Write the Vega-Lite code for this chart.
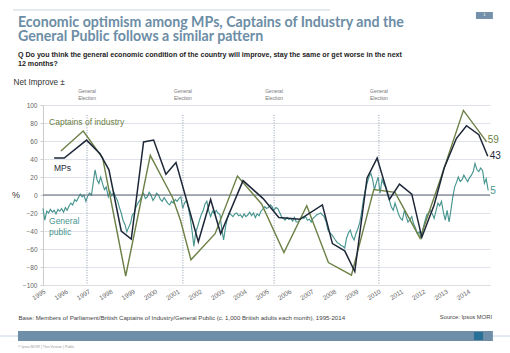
{
  "$schema": "https://vega.github.io/schema/vega-lite/v6.json",
  "width": 447,
  "height": 180,
  "autosize": {"type": "none"},
  "padding": {"left": 43, "top": 105, "right": 20, "bottom": 68},
  "background": "white",
  "resolve": {"axis": {"x": "independent", "y": "independent"}},
  "config": {
    "view": {"stroke": null},
    "font": "Liberation Sans",
    "axis": {
      "labelOverlap": false, "labelFlush": false, "labelBound": false,
      "labelFontSize": 6.5, "labelColor": "#666666", "labelPadding": 3,
      "titleFontWeight": "normal"
    },
    "axisX": {
      "grid": false, "ticks": false, "domainColor": "#dddddd", "labelAngle": -32,
      "titleFontSize": 6.1, "titleColor": "#444444",
      "titleAnchor": "start", "titleAlign": "left", "titleBaseline": "middle", "titleX": -25, "titleY": 32
    },
    "axisY": {
      "grid": true, "gridColor": "#dfe2e8", "ticks": true, "tickSize": 3, "tickColor": "#cccccc", "domainColor": "#cccccc",
      "titleFontSize": 8.2, "titleColor": "#333333",
      "titleAngle": 0, "titleAlign": "left", "titleBaseline": "middle", "titleX": -30, "titleY": -23
    }
  },
  "title": {
    "text": ["Economic optimism among MPs, Captains of Industry and the", "General Public follows a similar pattern"],
    "subtitle": ["Q Do you think the general economic condition of the country will improve, stay the same or get worse in the next", "12 months?"],
    "anchor": "start",
    "frame": "group",
    "dx": -25,
    "dy": 68,
    "offset": 10,
    "font": "Lato",
    "fontSize": 14.2,
    "fontWeight": "bold",
    "color": "#6c8da6",
    "lineHeight": 14,
    "subtitleFont": "Liberation Sans",
    "subtitleFontSize": 7.1,
    "subtitleFontWeight": "bold",
    "subtitleColor": "#222222",
    "subtitleLineHeight": 9,
    "subtitlePadding": 7
  },
  "datasets": {
    "mps": [
      {"t": 1995.5, "v": 41}, {"t": 1995.95, "v": 41}, {"t": 1996.95, "v": 61}, {"t": 1997.55, "v": 46},
      {"t": 1997.95, "v": 28}, {"t": 1998.5, "v": -40}, {"t": 1998.95, "v": -49}, {"t": 1999.5, "v": 59},
      {"t": 1999.95, "v": 61}, {"t": 2000.5, "v": 23}, {"t": 2000.95, "v": 36}, {"t": 2001.95, "v": -52},
      {"t": 2002.5, "v": -5}, {"t": 2002.95, "v": -43}, {"t": 2003.95, "v": 16}, {"t": 2004.85, "v": -4},
      {"t": 2005.55, "v": -25}, {"t": 2006.5, "v": -27}, {"t": 2007.5, "v": -11}, {"t": 2007.95, "v": -54},
      {"t": 2008.5, "v": -62}, {"t": 2008.95, "v": -85}, {"t": 2009.5, "v": 19}, {"t": 2009.95, "v": 41},
      {"t": 2010.5, "v": -5}, {"t": 2010.95, "v": 12}, {"t": 2011.5, "v": 1}, {"t": 2011.95, "v": -47},
      {"t": 2012.5, "v": -11}, {"t": 2012.95, "v": 30}, {"t": 2013.5, "v": 63}, {"t": 2013.95, "v": 77},
      {"t": 2014.5, "v": 67}, {"t": 2014.9, "v": 43}
    ],
    "coi": [
      {"t": 1995.8, "v": 49}, {"t": 1996.8, "v": 71}, {"t": 1997.67, "v": 41}, {"t": 1998.7, "v": -90},
      {"t": 1999.8, "v": 44}, {"t": 2000.8, "v": -3}, {"t": 2001.15, "v": -28}, {"t": 2001.62, "v": -72},
      {"t": 2002.7, "v": -43}, {"t": 2003.7, "v": 21}, {"t": 2004.78, "v": -10}, {"t": 2005.78, "v": -64},
      {"t": 2006.8, "v": -12}, {"t": 2007.77, "v": -75}, {"t": 2008.8, "v": -89}, {"t": 2009.8, "v": 6},
      {"t": 2010.75, "v": 3}, {"t": 2011.87, "v": -48}, {"t": 2012.84, "v": 22}, {"t": 2013.81, "v": 94},
      {"t": 2014.85, "v": 59}
    ],
    "gp": [
      {"t": 1995.00, "v": -15}, {"t": 1995.08, "v": -28}, {"t": 1995.17, "v": -18}, {"t": 1995.25, "v": -20},
      {"t": 1995.33, "v": -16}, {"t": 1995.42, "v": -19}, {"t": 1995.50, "v": -17}, {"t": 1995.58, "v": -21},
      {"t": 1995.67, "v": -16}, {"t": 1995.75, "v": -18}, {"t": 1995.83, "v": -15}, {"t": 1995.92, "v": -19},
      {"t": 1996.00, "v": -14}, {"t": 1996.08, "v": -17}, {"t": 1996.17, "v": -12}, {"t": 1996.25, "v": -9},
      {"t": 1996.33, "v": -11}, {"t": 1996.42, "v": -5}, {"t": 1996.50, "v": -7}, {"t": 1996.58, "v": -3},
      {"t": 1996.67, "v": 1}, {"t": 1996.75, "v": -2}, {"t": 1996.83, "v": 0}, {"t": 1996.92, "v": -7},
      {"t": 1997.00, "v": -1}, {"t": 1997.08, "v": 2}, {"t": 1997.17, "v": 0}, {"t": 1997.25, "v": 14},
      {"t": 1997.33, "v": 28}, {"t": 1997.42, "v": 17}, {"t": 1997.50, "v": 13}, {"t": 1997.58, "v": 20},
      {"t": 1997.67, "v": 12}, {"t": 1997.75, "v": 6}, {"t": 1997.83, "v": 9}, {"t": 1997.92, "v": -2},
      {"t": 1998.00, "v": 4}, {"t": 1998.08, "v": -1}, {"t": 1998.17, "v": 3}, {"t": 1998.25, "v": -2},
      {"t": 1998.33, "v": -6}, {"t": 1998.42, "v": -14}, {"t": 1998.50, "v": -20}, {"t": 1998.58, "v": -28},
      {"t": 1998.67, "v": -33}, {"t": 1998.75, "v": -41}, {"t": 1998.83, "v": -36}, {"t": 1998.92, "v": -31},
      {"t": 1999.00, "v": -22}, {"t": 1999.08, "v": -20}, {"t": 1999.17, "v": -13}, {"t": 1999.25, "v": -9},
      {"t": 1999.33, "v": -6}, {"t": 1999.42, "v": -1}, {"t": 1999.50, "v": 2}, {"t": 1999.58, "v": -4},
      {"t": 1999.67, "v": -2}, {"t": 1999.75, "v": 3}, {"t": 1999.83, "v": 0}, {"t": 1999.92, "v": -6},
      {"t": 2000.00, "v": -3}, {"t": 2000.08, "v": 2}, {"t": 2000.17, "v": 0}, {"t": 2000.25, "v": -5},
      {"t": 2000.33, "v": -7}, {"t": 2000.42, "v": -3}, {"t": 2000.50, "v": -6}, {"t": 2000.58, "v": -9},
      {"t": 2000.67, "v": -11}, {"t": 2000.75, "v": -7}, {"t": 2000.83, "v": -9}, {"t": 2000.92, "v": -5},
      {"t": 2001.00, "v": -7}, {"t": 2001.08, "v": -4}, {"t": 2001.17, "v": -2}, {"t": 2001.25, "v": -15},
      {"t": 2001.33, "v": -9}, {"t": 2001.42, "v": -6}, {"t": 2001.50, "v": -14}, {"t": 2001.58, "v": -24},
      {"t": 2001.67, "v": -40}, {"t": 2001.75, "v": -57}, {"t": 2001.83, "v": -42}, {"t": 2001.92, "v": -35},
      {"t": 2002.00, "v": -28}, {"t": 2002.08, "v": -22}, {"t": 2002.17, "v": -17}, {"t": 2002.25, "v": -10},
      {"t": 2002.33, "v": -7}, {"t": 2002.42, "v": -18}, {"t": 2002.50, "v": -24}, {"t": 2002.58, "v": -18},
      {"t": 2002.67, "v": -21}, {"t": 2002.75, "v": -17}, {"t": 2002.83, "v": -20}, {"t": 2002.92, "v": -22},
      {"t": 2003.00, "v": -38}, {"t": 2003.08, "v": -50}, {"t": 2003.17, "v": -35}, {"t": 2003.25, "v": -26},
      {"t": 2003.33, "v": -20}, {"t": 2003.42, "v": -22}, {"t": 2003.50, "v": -24}, {"t": 2003.58, "v": -21},
      {"t": 2003.67, "v": -20}, {"t": 2003.75, "v": -23}, {"t": 2003.83, "v": -22}, {"t": 2003.92, "v": -25},
      {"t": 2004.00, "v": -21}, {"t": 2004.08, "v": -24}, {"t": 2004.17, "v": -22}, {"t": 2004.25, "v": -19},
      {"t": 2004.33, "v": -23}, {"t": 2004.42, "v": -20}, {"t": 2004.50, "v": -25}, {"t": 2004.58, "v": -21},
      {"t": 2004.67, "v": -23}, {"t": 2004.75, "v": -18}, {"t": 2004.83, "v": -16}, {"t": 2004.92, "v": -13},
      {"t": 2005.00, "v": -15}, {"t": 2005.08, "v": -14}, {"t": 2005.17, "v": -11}, {"t": 2005.25, "v": -13},
      {"t": 2005.33, "v": -17}, {"t": 2005.42, "v": -14}, {"t": 2005.50, "v": -15}, {"t": 2005.58, "v": -19},
      {"t": 2005.67, "v": -24}, {"t": 2005.75, "v": -26}, {"t": 2005.83, "v": -28}, {"t": 2005.92, "v": -25},
      {"t": 2006.00, "v": -27}, {"t": 2006.08, "v": -26}, {"t": 2006.17, "v": -29}, {"t": 2006.25, "v": -25},
      {"t": 2006.33, "v": -30}, {"t": 2006.42, "v": -30}, {"t": 2006.50, "v": -27}, {"t": 2006.58, "v": -24},
      {"t": 2006.67, "v": -26}, {"t": 2006.75, "v": -24}, {"t": 2006.83, "v": -28}, {"t": 2006.92, "v": -27},
      {"t": 2007.00, "v": -30}, {"t": 2007.08, "v": -26}, {"t": 2007.17, "v": -24}, {"t": 2007.25, "v": -22},
      {"t": 2007.33, "v": -21}, {"t": 2007.42, "v": -20}, {"t": 2007.50, "v": -22}, {"t": 2007.58, "v": -24},
      {"t": 2007.67, "v": -30}, {"t": 2007.75, "v": -39}, {"t": 2007.83, "v": -42}, {"t": 2007.92, "v": -44},
      {"t": 2008.00, "v": -47}, {"t": 2008.08, "v": -50}, {"t": 2008.17, "v": -53}, {"t": 2008.25, "v": -54},
      {"t": 2008.33, "v": -56}, {"t": 2008.42, "v": -57}, {"t": 2008.50, "v": -59}, {"t": 2008.58, "v": -48},
      {"t": 2008.67, "v": -42}, {"t": 2008.75, "v": -39}, {"t": 2008.83, "v": -46}, {"t": 2008.92, "v": -50},
      {"t": 2009.00, "v": -43}, {"t": 2009.08, "v": -38}, {"t": 2009.17, "v": -31}, {"t": 2009.25, "v": -20},
      {"t": 2009.33, "v": -6}, {"t": 2009.42, "v": 5}, {"t": 2009.50, "v": 13}, {"t": 2009.58, "v": 20},
      {"t": 2009.67, "v": 24}, {"t": 2009.75, "v": 17}, {"t": 2009.83, "v": 6}, {"t": 2009.92, "v": 14},
      {"t": 2010.00, "v": 20}, {"t": 2010.08, "v": 2}, {"t": 2010.17, "v": 17}, {"t": 2010.25, "v": 12},
      {"t": 2010.33, "v": 9}, {"t": 2010.42, "v": 0}, {"t": 2010.50, "v": -6}, {"t": 2010.58, "v": -13},
      {"t": 2010.67, "v": -17}, {"t": 2010.75, "v": -9}, {"t": 2010.83, "v": -15}, {"t": 2010.92, "v": -22},
      {"t": 2011.00, "v": -26}, {"t": 2011.08, "v": -28}, {"t": 2011.17, "v": -17}, {"t": 2011.25, "v": -24},
      {"t": 2011.33, "v": -30}, {"t": 2011.42, "v": -27}, {"t": 2011.50, "v": -24}, {"t": 2011.58, "v": -32},
      {"t": 2011.67, "v": -37}, {"t": 2011.75, "v": -43}, {"t": 2011.83, "v": -41}, {"t": 2011.92, "v": -48},
      {"t": 2012.00, "v": -38}, {"t": 2012.08, "v": -30}, {"t": 2012.17, "v": -22}, {"t": 2012.25, "v": -20},
      {"t": 2012.33, "v": -17}, {"t": 2012.42, "v": -21}, {"t": 2012.50, "v": -26}, {"t": 2012.58, "v": -18},
      {"t": 2012.67, "v": -9}, {"t": 2012.75, "v": -12}, {"t": 2012.83, "v": -7}, {"t": 2012.92, "v": -20},
      {"t": 2013.00, "v": -28}, {"t": 2013.08, "v": -17}, {"t": 2013.17, "v": -30}, {"t": 2013.25, "v": -17},
      {"t": 2013.33, "v": -3}, {"t": 2013.42, "v": 9}, {"t": 2013.50, "v": 14}, {"t": 2013.58, "v": 20},
      {"t": 2013.67, "v": 15}, {"t": 2013.75, "v": 17}, {"t": 2013.83, "v": 22}, {"t": 2013.92, "v": 18},
      {"t": 2014.00, "v": 15}, {"t": 2014.08, "v": 19}, {"t": 2014.17, "v": 22}, {"t": 2014.25, "v": 26},
      {"t": 2014.33, "v": 35}, {"t": 2014.42, "v": 28}, {"t": 2014.50, "v": 26}, {"t": 2014.58, "v": 30},
      {"t": 2014.67, "v": 27}, {"t": 2014.75, "v": 13}, {"t": 2014.83, "v": 18}, {"t": 2014.92, "v": 5}
    ],
    "elections": [
      {"t": 1996.97, "label": "General\nElection"},
      {"t": 2001.26, "label": "General\nElection"},
      {"t": 2005.34, "label": "General\nElection"},
      {"t": 2010.03, "label": "General\nElection"}
    ],
    "labels": [
      {"name": "Captains of industry", "series": "coi", "t": 1995.27, "v": 81},
      {"name": "MPs", "series": "mps", "t": 1995.49, "v": 30.5},
      {"name": "General", "series": "gp", "t": 1995.27, "v": -29},
      {"name": "public", "series": "gp", "t": 1995.27, "v": -41}
    ]
  },
  "layer": [
    {
      "data": {"name": "gp"},
      "mark": {"type": "line", "color": "#47958f", "strokeWidth": 1.15},
      "encoding": {
        "x": {"field": "t", "type": "quantitative",
          "scale": {"domain": [1995, 2015], "nice": false, "zero": false},
          "axis": {
            "values": [1995, 1996, 1997, 1998, 1999, 2000, 2001, 2002, 2003, 2004, 2005, 2006, 2007, 2008, 2009, 2010, 2011, 2012, 2013, 2014],
            "format": "d", "labelOverlap": false, "grid": false,
            "title": "Base: Members of Parliament/British Captains of Industry/General Public (c. 1,000 British adults each month), 1995-2014"
          }
        },
        "y": {"field": "v", "type": "quantitative",
          "scale": {"domain": [-100, 100], "nice": false},
          "axis": {
            "values": [-100, -80, -60, -40, -20, 0, 20, 40, 60, 80, 100],
            "labelOverlap": false, "grid": true,
            "title": "Net Improve ±"
          }
        }
      }
    },
    {
      "mark": {"type": "rule", "color": "#5b6570", "strokeWidth": 1},
      "data": {"values": [{}]},
      "encoding": {
        "y": {"datum": 0, "type": "quantitative", "scale": {"domain": [-100, 100], "nice": false}, "axis": null}
      }
    },
    {
      "data": {"name": "elections"},
      "mark": {"type": "rule", "color": "#8e9aae", "strokeDash": [1, 1.5], "strokeWidth": 1},
      "encoding": {
        "x": {"field": "t", "type": "quantitative", "scale": {"domain": [1995, 2015], "nice": false, "zero": false}, "axis": null},
        "y": {"datum": 89, "type": "quantitative", "scale": {"domain": [-100, 100], "nice": false}, "axis": null},
        "y2": {"datum": -100}
      }
    },
    {
      "data": {"name": "elections"},
      "mark": {"type": "text", "fontSize": 5, "color": "#777777", "align": "center", "baseline": "top", "lineBreak": "\n", "lineHeight": 7},
      "encoding": {
        "x": {"field": "t", "type": "quantitative", "scale": {"domain": [1995, 2015], "nice": false, "zero": false}, "axis": null},
        "y": {"datum": 118, "type": "quantitative", "scale": {"domain": [-100, 100], "nice": false}, "axis": null},
        "text": {"field": "label"}
      }
    },
    {
      "data": {"name": "coi"},
      "mark": {"type": "line", "color": "#6d8046", "strokeWidth": 1.4},
      "encoding": {
        "x": {"field": "t", "type": "quantitative", "scale": {"domain": [1995, 2015], "nice": false, "zero": false}, "axis": null},
        "y": {"field": "v", "type": "quantitative", "scale": {"domain": [-100, 100], "nice": false}, "axis": null}
      }
    },
    {
      "data": {"name": "mps"},
      "mark": {"type": "line", "color": "#1e2738", "strokeWidth": 1.5},
      "encoding": {
        "x": {"field": "t", "type": "quantitative", "scale": {"domain": [1995, 2015], "nice": false, "zero": false}, "axis": null},
        "y": {"field": "v", "type": "quantitative", "scale": {"domain": [-100, 100], "nice": false}, "axis": null}
      }
    },
    {
      "data": {"name": "coi"},
      "transform": [{"joinaggregate": [{"op": "max", "field": "t", "as": "tmax"}]}, {"filter": "datum.t == datum.tmax"}],
      "mark": {"type": "text", "fontSize": 10, "color": "#6d8046", "align": "left", "baseline": "middle", "dx": 1, "dy": -2},
      "encoding": {
        "x": {"field": "t", "type": "quantitative", "scale": {"domain": [1995, 2015], "nice": false, "zero": false}, "axis": null},
        "y": {"field": "v", "type": "quantitative", "scale": {"domain": [-100, 100], "nice": false}, "axis": null},
        "text": {"field": "v", "type": "quantitative"}
      }
    },
    {
      "data": {"name": "mps"},
      "transform": [{"joinaggregate": [{"op": "max", "field": "t", "as": "tmax"}]}, {"filter": "datum.t == datum.tmax"}],
      "mark": {"type": "text", "fontSize": 10, "color": "#1e2738", "align": "left", "baseline": "middle", "dx": 2},
      "encoding": {
        "x": {"field": "t", "type": "quantitative", "scale": {"domain": [1995, 2015], "nice": false, "zero": false}, "axis": null},
        "y": {"field": "v", "type": "quantitative", "scale": {"domain": [-100, 100], "nice": false}, "axis": null},
        "text": {"field": "v", "type": "quantitative"}
      }
    },
    {
      "data": {"name": "gp"},
      "transform": [{"joinaggregate": [{"op": "max", "field": "t", "as": "tmax"}]}, {"filter": "datum.t == datum.tmax"}],
      "mark": {"type": "text", "fontSize": 10, "color": "#47958f", "align": "left", "baseline": "middle", "dx": 2},
      "encoding": {
        "x": {"field": "t", "type": "quantitative", "scale": {"domain": [1995, 2015], "nice": false, "zero": false}, "axis": null},
        "y": {"field": "v", "type": "quantitative", "scale": {"domain": [-100, 100], "nice": false}, "axis": null},
        "text": {"field": "v", "type": "quantitative"}
      }
    },
    {
      "data": {"name": "labels"},
      "mark": {"type": "text", "fontSize": 8.5, "align": "left", "baseline": "middle"},
      "encoding": {
        "x": {"field": "t", "type": "quantitative", "scale": {"domain": [1995, 2015], "nice": false, "zero": false}, "axis": null},
        "y": {"field": "v", "type": "quantitative", "scale": {"domain": [-100, 100], "nice": false}, "axis": null},
        "text": {"field": "name"},
        "color": {"field": "series", "type": "nominal", "legend": null,
          "scale": {"domain": ["coi", "mps", "gp"], "range": ["#6d8046", "#1e2738", "#47958f"]}}
      }
    },
    {
      "data": {"values": [{}]},
      "mark": {"type": "text", "fontSize": 9, "color": "#333333", "align": "left", "baseline": "middle", "dx": -31},
      "encoding": {
        "x": {"datum": 1995, "type": "quantitative", "scale": {"domain": [1995, 2015], "nice": false, "zero": false}, "axis": null},
        "y": {"datum": 0, "type": "quantitative", "scale": {"domain": [-100, 100], "nice": false}, "axis": null},
        "text": {"value": "%"}
      }
    },
    {
      "data": {"values": [{}]},
      "mark": {"type": "text", "fontSize": 5.8, "color": "#444444", "align": "right", "baseline": "middle"},
      "encoding": {
        "x": {"datum": 2015.09, "type": "quantitative", "scale": {"domain": [1995, 2015], "nice": false, "zero": false}, "axis": null},
        "y": {"datum": -135.6, "type": "quantitative", "scale": {"domain": [-100, 100], "nice": false}, "axis": null},
        "text": {"value": "Source: Ipsos MORI"}
      }
    },
    {
      "data": {"values": [{}]},
      "mark": {"type": "rule", "color": "#c9d6e0", "strokeWidth": 1},
      "encoding": {
        "x": {"datum": 1993.08, "type": "quantitative", "scale": {"domain": [1995, 2015], "nice": false, "zero": false}, "axis": null},
        "x2": {"datum": 2015.9},
        "y": {"datum": -156.7, "type": "quantitative", "scale": {"domain": [-100, 100], "nice": false}, "axis": null}
      }
    },
    {
      "data": {"values": [{}]},
      "mark": {"type": "rect", "color": "#6f8fa8"},
      "encoding": {
        "x": {"datum": 1993.88, "type": "quantitative", "scale": {"domain": [1995, 2015], "nice": false, "zero": false}, "axis": null},
        "x2": {"datum": 2015.13},
        "y": {"datum": -151.1, "type": "quantitative", "scale": {"domain": [-100, 100], "nice": false}, "axis": null},
        "y2": {"datum": -162.2}
      }
    },
    {
      "data": {"values": [{}]},
      "mark": {"type": "rect", "color": "#2a6f95"},
      "encoding": {
        "x": {"datum": 2014.28, "type": "quantitative", "scale": {"domain": [1995, 2015], "nice": false, "zero": false}, "axis": null},
        "x2": {"datum": 2014.69},
        "y": {"datum": -152.2, "type": "quantitative", "scale": {"domain": [-100, 100], "nice": false}, "axis": null},
        "y2": {"datum": -161.1}
      }
    },
    {
      "data": {"values": [{}]},
      "mark": {"type": "text", "fontSize": 3.5, "color": "#999999", "align": "left", "baseline": "middle"},
      "encoding": {
        "x": {"datum": 1993.88, "type": "quantitative", "scale": {"domain": [1995, 2015], "nice": false, "zero": false}, "axis": null},
        "y": {"datum": -168.9, "type": "quantitative", "scale": {"domain": [-100, 100], "nice": false}, "axis": null},
        "text": {"value": "© Ipsos MORI | This Version | Public"}
      }
    },
    {
      "data": {"values": [{}]},
      "mark": {"type": "rule", "color": "#c9d6e0", "strokeWidth": 1},
      "encoding": {
        "x": {"datum": 1993.66, "type": "quantitative", "scale": {"domain": [1995, 2015], "nice": false, "zero": false}, "axis": null},
        "x2": {"datum": 2007.84},
        "y": {"datum": 205.6, "type": "quantitative", "scale": {"domain": [-100, 100], "nice": false}, "axis": null}
      }
    },
    {
      "data": {"values": [{}]},
      "mark": {"type": "rect", "color": "#7391aa"},
      "encoding": {
        "x": {"datum": 2014.37, "type": "quantitative", "scale": {"domain": [1995, 2015], "nice": false, "zero": false}, "axis": null},
        "x2": {"datum": 2015.13},
        "y": {"datum": 203.3, "type": "quantitative", "scale": {"domain": [-100, 100], "nice": false}, "axis": null},
        "y2": {"datum": 195.6}
      }
    },
    {
      "data": {"values": [{}]},
      "mark": {"type": "text", "fontSize": 4, "color": "#ffffff", "align": "center", "baseline": "middle"},
      "encoding": {
        "x": {"datum": 2014.75, "type": "quantitative", "scale": {"domain": [1995, 2015], "nice": false, "zero": false}, "axis": null},
        "y": {"datum": 199.5, "type": "quantitative", "scale": {"domain": [-100, 100], "nice": false}, "axis": null},
        "text": {"value": "1"}
      }
    }
  ]
}
